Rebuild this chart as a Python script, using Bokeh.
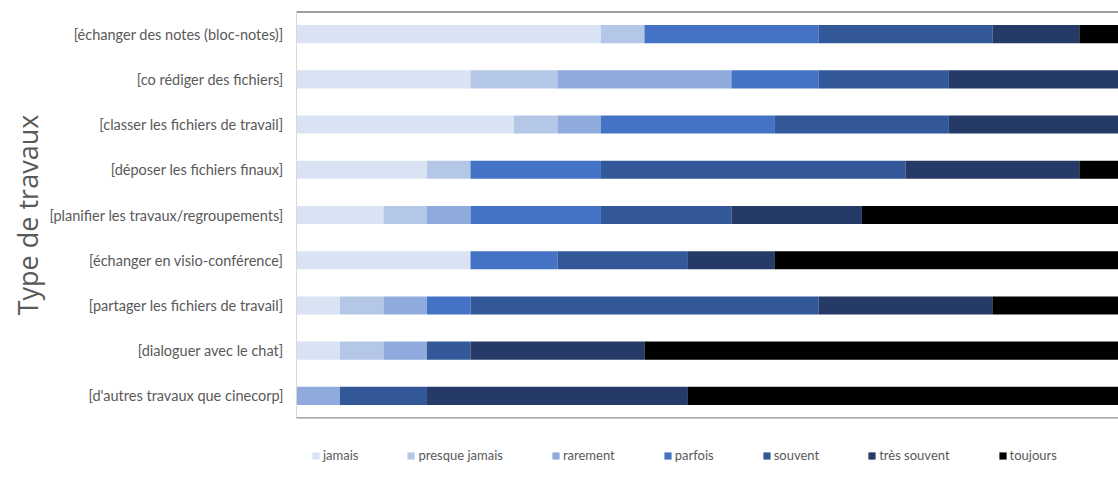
from bokeh.plotting import figure
from bokeh.models import ColumnDataSource, FactorRange, Range1d, Span, Legend, LegendItem
from bokeh.embed import file_html
from bokeh.resources import INLINE

categories = [
    "[échanger des notes (bloc-notes)]",
    "[co rédiger des fichiers]",
    "[classer les fichiers de travail]",
    "[déposer les fichiers finaux]",
    "[planifier les travaux/regroupements]",
    "[échanger en visio-conférence]",
    "[partager les fichiers de travail]",
    "[dialoguer avec le chat]",
    "[d'autres travaux que cinecorp]",
]
series = ["jamais", "presque jamais", "rarement", "parfois", "souvent", "très souvent", "toujours"]
jamais = [7, 4, 5, 3, 2, 4, 1, 1, 0]
presque_jamais = [1, 2, 1, 1, 1, 0, 1, 1, 0]
rarement = [0, 4, 1, 0, 1, 0, 1, 1, 1]
parfois = [4, 2, 4, 3, 3, 2, 1, 0, 0]
souvent = [4, 3, 4, 7, 3, 3, 8, 1, 2]
tres_souvent = [2, 5, 5, 4, 3, 2, 4, 4, 6]
toujours = [2, 0, 0, 2, 7, 9, 4, 12, 11]
colors = ["#DAE3F3", "#B4C7E7", "#8FAADC", "#4472C4", "#32589A", "#253A66", "#000000"]

source = ColumnDataSource(dict(
    cat=categories,
    **{"jamais": jamais, "presque jamais": presque_jamais, "rarement": rarement,
       "parfois": parfois, "souvent": souvent, "très souvent": tres_souvent,
       "toujours": toujours}))

p = figure(output_backend="svg", toolbar_location=None, x_axis_location=None,
           y_range=FactorRange(factors=list(reversed(categories)), range_padding=0),
           x_range=Range1d(0, 18.9),
           min_border_left=296, min_border_right=0, min_border_top=11, min_border_bottom=62)
p.frame_width = 822
p.frame_height = 407

renderers = p.hbar_stack(series, y="cat", height=0.4, color=colors, line_color=None,
                         source=source)

p.outline_line_color = None
p.xgrid.visible = False
p.ygrid.visible = False

yax = p.yaxis[0]
yax.major_tick_line_color = None
yax.minor_tick_line_color = None
yax.axis_line_color = "#D9D9D9"
yax.axis_line_width = 1
yax.major_label_text_font = "Lato"
yax.major_label_text_font_size = "14.5px"
yax.major_label_text_color = "#595959"
yax.major_label_standoff = 7
yax.axis_label = "Type de travaux"
yax.axis_label_text_font = "Open Sans"
yax.axis_label_text_font_size = "27px"
yax.axis_label_text_font_style = "normal"
yax.axis_label_text_color = "#595959"
yax.axis_label_standoff = 0

p.add_layout(Span(location=9, dimension="width", line_color="#404040", line_width=2))
p.add_layout(Span(location=0, dimension="width", line_color="#8C8C8C", line_width=2.5))

legend = Legend(items=[LegendItem(label=s, renderers=[r]) for s, r in zip(series, renderers)],
                orientation="horizontal", location="top_left",
                title=" ", title_text_font_size="2px", title_standoff=12,
                glyph_width=9, glyph_height=9, label_standoff=3, spacing=48,
                label_text_font="Lato", label_text_font_size="13px",
                label_text_color="#595959", border_line_color=None,
                background_fill_alpha=0, padding=6, margin=15)
p.add_layout(legend, "below")

open("out.html", "w").write(file_html(p, INLINE))
